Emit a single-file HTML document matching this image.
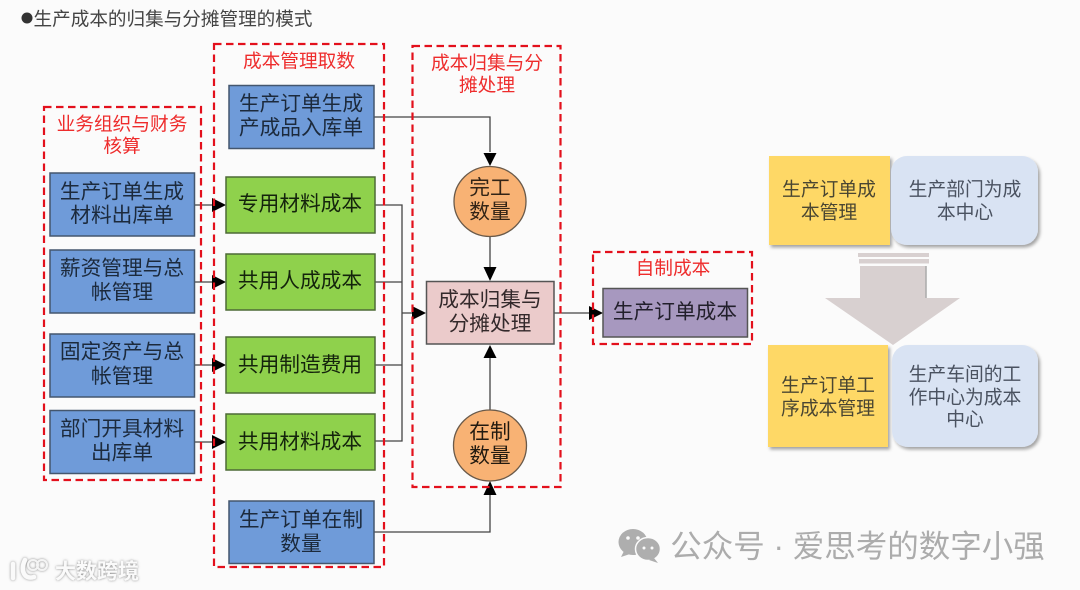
<!DOCTYPE html>
<html><head><meta charset="utf-8"><style>
html,body{margin:0;padding:0;background:#fbfbfb;width:1080px;height:590px;overflow:hidden}
svg{display:block}
text{font-family:"Liberation Sans","Noto Sans CJK SC",sans-serif;text-anchor:middle;dominant-baseline:central;transform:translateY(1px)}
.b{font-size:20.7px;fill:#1c2a3c}
.g{font-size:20.7px;fill:#14240c}
.r{font-size:18.7px;fill:#ee2c2c}
.y{font-size:18.8px;fill:#4a4632}
.u{font-size:18.8px;fill:#4a5260}
.dash{fill:none;stroke:#e3101c;stroke-width:2.2;stroke-dasharray:7.500 4.500}
.ln{fill:none;stroke:#444;stroke-width:1.3}
.bb{fill:#6f9bd9;stroke:#44566e;stroke-width:1.5}
.gb{fill:#8fd14c;stroke:#4d6b36;stroke-width:1.5}
</style></head><body>
<svg width="1080" height="590" viewBox="0 0 1080 590" xmlns="http://www.w3.org/2000/svg">
<defs>
<filter id="s" x="-10%" y="-10%" width="125%" height="125%"><feDropShadow dx="2" dy="2.5" stdDeviation="1.6" flood-color="#000" flood-opacity=".35"/></filter>
<filter id="w" x="-10%" y="-20%" width="120%" height="140%"><feDropShadow dx="0" dy="0" stdDeviation="1.300" flood-color="#777" flood-opacity=".9"/></filter>
</defs>
<rect width="1080" height="590" fill="#fbfbfb"/>
<circle cx="27" cy="18" r="5.5" fill="#333"/>
<text x="173" y="18" style="font-size:18.6px;fill:#444">生产成本的归集与分摊管理的模式</text>

<!-- connectors -->
<path class="ln" d="M374 117H490V152M490 236V267M554 313H590M374 532H490V495M490 410V358M375 205H402V441H375M375 282H402M375 365H402M402 313H414M195 205H213M195 282H213M195 365H213M195 442H213"/>
<g fill="#000">
<path d="M483.500 153H496.500L490 166Z"/>
<path d="M483.500 267H496.500L490 281Z"/>
<path d="M483.500 358H496.500L490 345Z"/>
<path d="M483.500 495H496.500L490 481Z"/>
<path d="M412 306V320L426 313Z"/>
<path d="M589 306V320L603 313Z"/>
<path d="M212 198V212L226 205Z"/>
<path d="M212 275V289L226 282Z"/>
<path d="M212 358V372L226 365Z"/>
<path d="M212 435V449L226 442Z"/>
</g>

<!-- dashed groups -->
<rect class="dash" x="44" y="107" width="157" height="373"/>
<rect class="dash" x="214" y="44" width="170" height="523"/>
<rect class="dash" x="412.500" y="46" width="148" height="441"/>
<rect class="dash" x="593" y="252" width="159" height="92"/>
<text class="r" x="122" y="123">业务组织与财务</text><text class="r" x="122" y="145">核算</text>
<text class="r" x="299" y="60">成本管理取数</text>
<text class="r" x="487" y="62">成本归集与分</text><text class="r" x="487" y="84">摊处理</text>
<text class="r" x="673" y="267">自制成本</text>

<!-- left boxes -->
<rect class="bb" x="50" y="173" width="144.500" height="63"/>
<text class="b" x="122" y="191">生产订单生成</text><text class="b" x="122" y="214.500">材料出库单</text>
<rect class="bb" x="50" y="250" width="144.500" height="63"/>
<text class="b" x="122" y="267.500">薪资管理与总</text><text class="b" x="122" y="291.500">帐管理</text>
<rect class="bb" x="50" y="334" width="144.500" height="63"/>
<text class="b" x="122" y="351">固定资产与总</text><text class="b" x="122" y="375.500">帐管理</text>
<rect class="bb" x="50" y="410.500" width="144.500" height="63"/>
<text class="b" x="122" y="428">部门开具材料</text><text class="b" x="122" y="452">出库单</text>

<!-- middle -->
<rect class="bb" x="229" y="85.500" width="145" height="63"/>
<text class="b" x="301" y="103">生产订单生成</text><text class="b" x="301" y="127">产成品入库单</text>
<rect class="gb" x="226" y="177" width="149" height="56"/><text class="g" x="300" y="203">专用材料成本</text>
<rect class="gb" x="226" y="254" width="149" height="56"/><text class="g" x="300" y="280">共用人成成本</text>
<rect class="gb" x="226" y="337" width="149" height="56"/><text class="g" x="300" y="364">共用制造费用</text>
<rect class="gb" x="226" y="414" width="149" height="56"/><text class="g" x="300" y="441">共用材料成本</text>
<rect class="bb" x="229" y="501" width="145" height="62.500"/>
<text class="b" x="301" y="519">生产订单在制</text><text class="b" x="301" y="543">数量</text>

<!-- center -->
<ellipse cx="490" cy="201.500" rx="36" ry="35" fill="#f8b274" stroke="#6a5a4a" stroke-width="1.300"/>
<text class="g" x="490" y="187" style="fill:#332416">完工</text><text class="g" x="490" y="211" style="fill:#332416">数量</text>
<rect x="426.500" y="281.500" width="127.500" height="62.500" fill="#ebcbcb" stroke="#555" stroke-width="1.500"/>
<text class="g" x="490" y="299" style="fill:#33292b">成本归集与</text><text class="g" x="490" y="323" style="fill:#33292b">分摊处理</text>
<ellipse cx="490" cy="445.500" rx="36.500" ry="35.500" fill="#f8b274" stroke="#6a5a4a" stroke-width="1.300"/>
<text class="g" x="490" y="431" style="fill:#221a10">在制</text><text class="g" x="490" y="455" style="fill:#221a10">数量</text>
<rect x="603" y="288.500" width="144.500" height="48.500" fill="#a798bf" stroke="#555" stroke-width="1.500"/>
<text class="g" x="675" y="311" style="fill:#221f2b">生产订单成本</text>

<!-- right -->
<rect x="769" y="156" width="121" height="89" fill="#fed866" filter="url(#s)"/>
<rect x="891" y="156" width="147" height="89" rx="16" fill="#d9e3f3" filter="url(#s)"/>
<text class="y" x="829" y="188">生产订单成</text><text class="y" x="829" y="211">本管理</text>
<text class="u" x="965" y="188">生产部门为成</text><text class="u" x="965" y="211">本中心</text>
<g fill="#d8d0d0">
<rect x="858" y="253" width="71" height="4"/>
<rect x="859" y="259" width="70" height="4.500"/>
<path d="M860 266H926V298H960L893 345L825 298H860Z"/>
</g>
<path d="M926 266V298" stroke="#aaa" stroke-width="1.500"/>
<rect x="768" y="345" width="120" height="102" fill="#fed866" filter="url(#s)"/>
<rect x="892" y="345" width="146" height="102" rx="16" fill="#d9e3f3" filter="url(#s)"/>
<text class="y" x="828" y="384">生产订单工</text><text class="y" x="828" y="407">序成本管理</text>
<text class="u" x="965" y="373">生产车间的工</text><text class="u" x="965" y="396">作中心为成本</text><text class="u" x="965" y="418">中心</text>

<!-- watermarks -->
<g fill="#aeaeae">
<ellipse cx="633" cy="542" rx="14.500" ry="13"/><path d="M624 551l-3 6 9-3z"/>
<ellipse cx="648" cy="549" rx="12.500" ry="11.500" stroke="#fbfbfb" stroke-width="1.500"/><path d="M654 558l4 5-9-3z"/>
</g>
<g fill="#fbfbfb"><circle cx="628" cy="538" r="1.800"/><circle cx="638" cy="538" r="1.800"/><circle cx="644" cy="548" r="1.500"/><circle cx="652" cy="548" r="1.500"/></g>
<text x="857.500" y="545" style="font-size:31.500px;fill:#acacac">公众号 · 爱思考的数字小强</text>
<g filter="url(#w)">
<g fill="none" stroke="#fafafa" stroke-width="4.500" stroke-linecap="round"><path d="M13 564V578M25 560C20 570 24 580 34 577"/></g>
<g fill="none" stroke="#f4f4f4" stroke-width="2"><circle cx="33" cy="565" r="5"/><circle cx="42" cy="565" r="5"/></g>
<text x="97" y="571" style="font-size:21px;font-weight:bold;fill:#fafafa">大数跨境</text>
</g>
</svg>
</body></html>
